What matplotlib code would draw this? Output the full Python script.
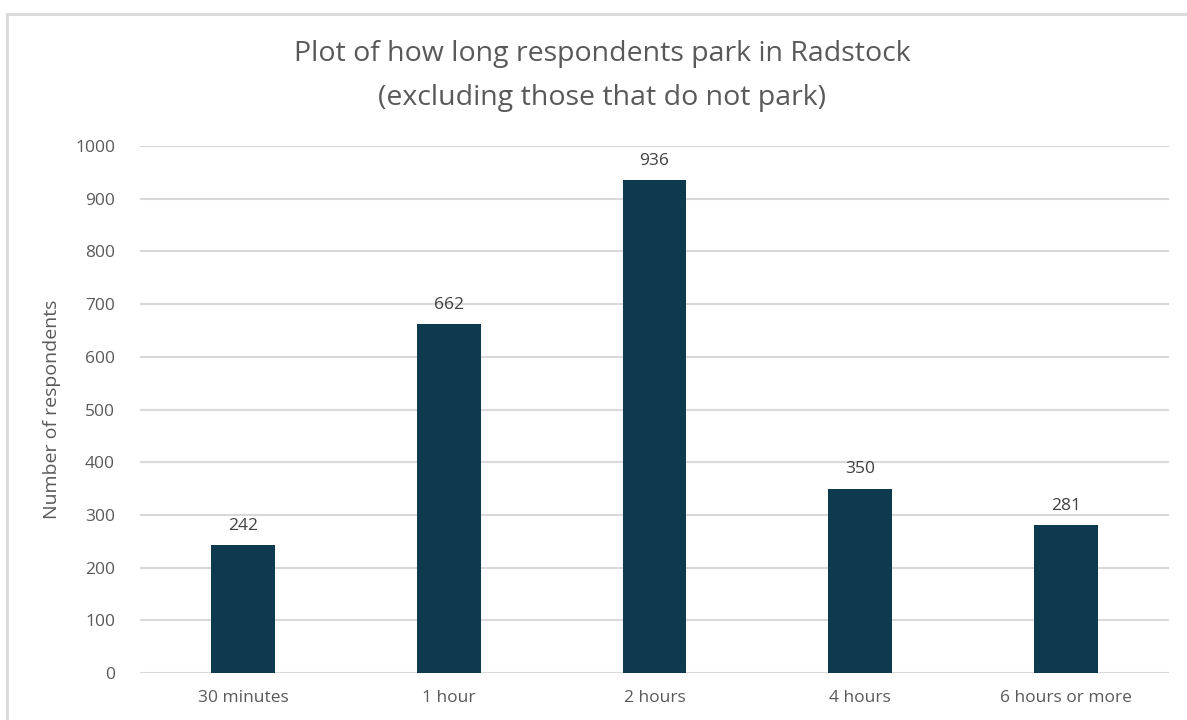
import matplotlib.pyplot as plt
from matplotlib.patches import Rectangle

categories = ["30 minutes", "1 hour", "2 hours", "4 hours", "6 hours or more"]
respondents = [242, 662, 936, 350, 281]
y_ticks = list(range(0, 1001, 100))

BAR_COLOR = "#0e3a4f"
TEXT_COLOR = "#595959"
GRID_COLOR = "#d9d9d9"

plt.rcParams["font.family"] = ["Open Sans", "DejaVu Sans"]

fig = plt.figure(figsize=(11.87, 7.2), dpi=100)
ax = fig.add_axes([140 / 1187, 1 - 673 / 720, (1169 - 140) / 1187, (673 - 146) / 720])

# chart border like the Excel chart area
fig.patches.append(Rectangle((7 / 1187, -0.05), 1.2, 1 - 14 / 720 + 0.05,
                             transform=fig.transFigure, fill=False,
                             edgecolor=GRID_COLOR, linewidth=2))

x = range(len(categories))
bars = ax.bar(x, respondents, width=0.31, color=BAR_COLOR, zorder=3)

for rect, val in zip(bars, respondents):
    ax.annotate(str(val), (rect.get_x() + rect.get_width() / 2, val),
                xytext=(0, 8), textcoords="offset points",
                ha="center", va="bottom", fontsize=12.5, color="#404040")

ax.set_xlim(-0.5, len(categories) - 0.5)
ax.set_ylim(0, 1000)
ax.set_yticks(y_ticks)
ax.set_xticks(list(x))
ax.set_xticklabels(categories)
ax.tick_params(axis="both", length=0, labelsize=12.5, colors=TEXT_COLOR)
ax.tick_params(axis="y", pad=18)
ax.tick_params(axis="x", pad=12)
ax.yaxis.grid(True, color=GRID_COLOR, linewidth=1.5, zorder=0)
for side in ax.spines.values():
    side.set_visible(False)

ax.set_ylabel("Number of respondents", fontsize=14, color=TEXT_COLOR, labelpad=10)

fig.text(602 / 1187, 1 - 76 / 720,
         "Plot of how long respondents park in Radstock\n(excluding those that do not park)",
         ha="center", va="center", fontsize=20.5, color=TEXT_COLOR, linespacing=1.8)

fig.savefig("out.png", dpi=100)
